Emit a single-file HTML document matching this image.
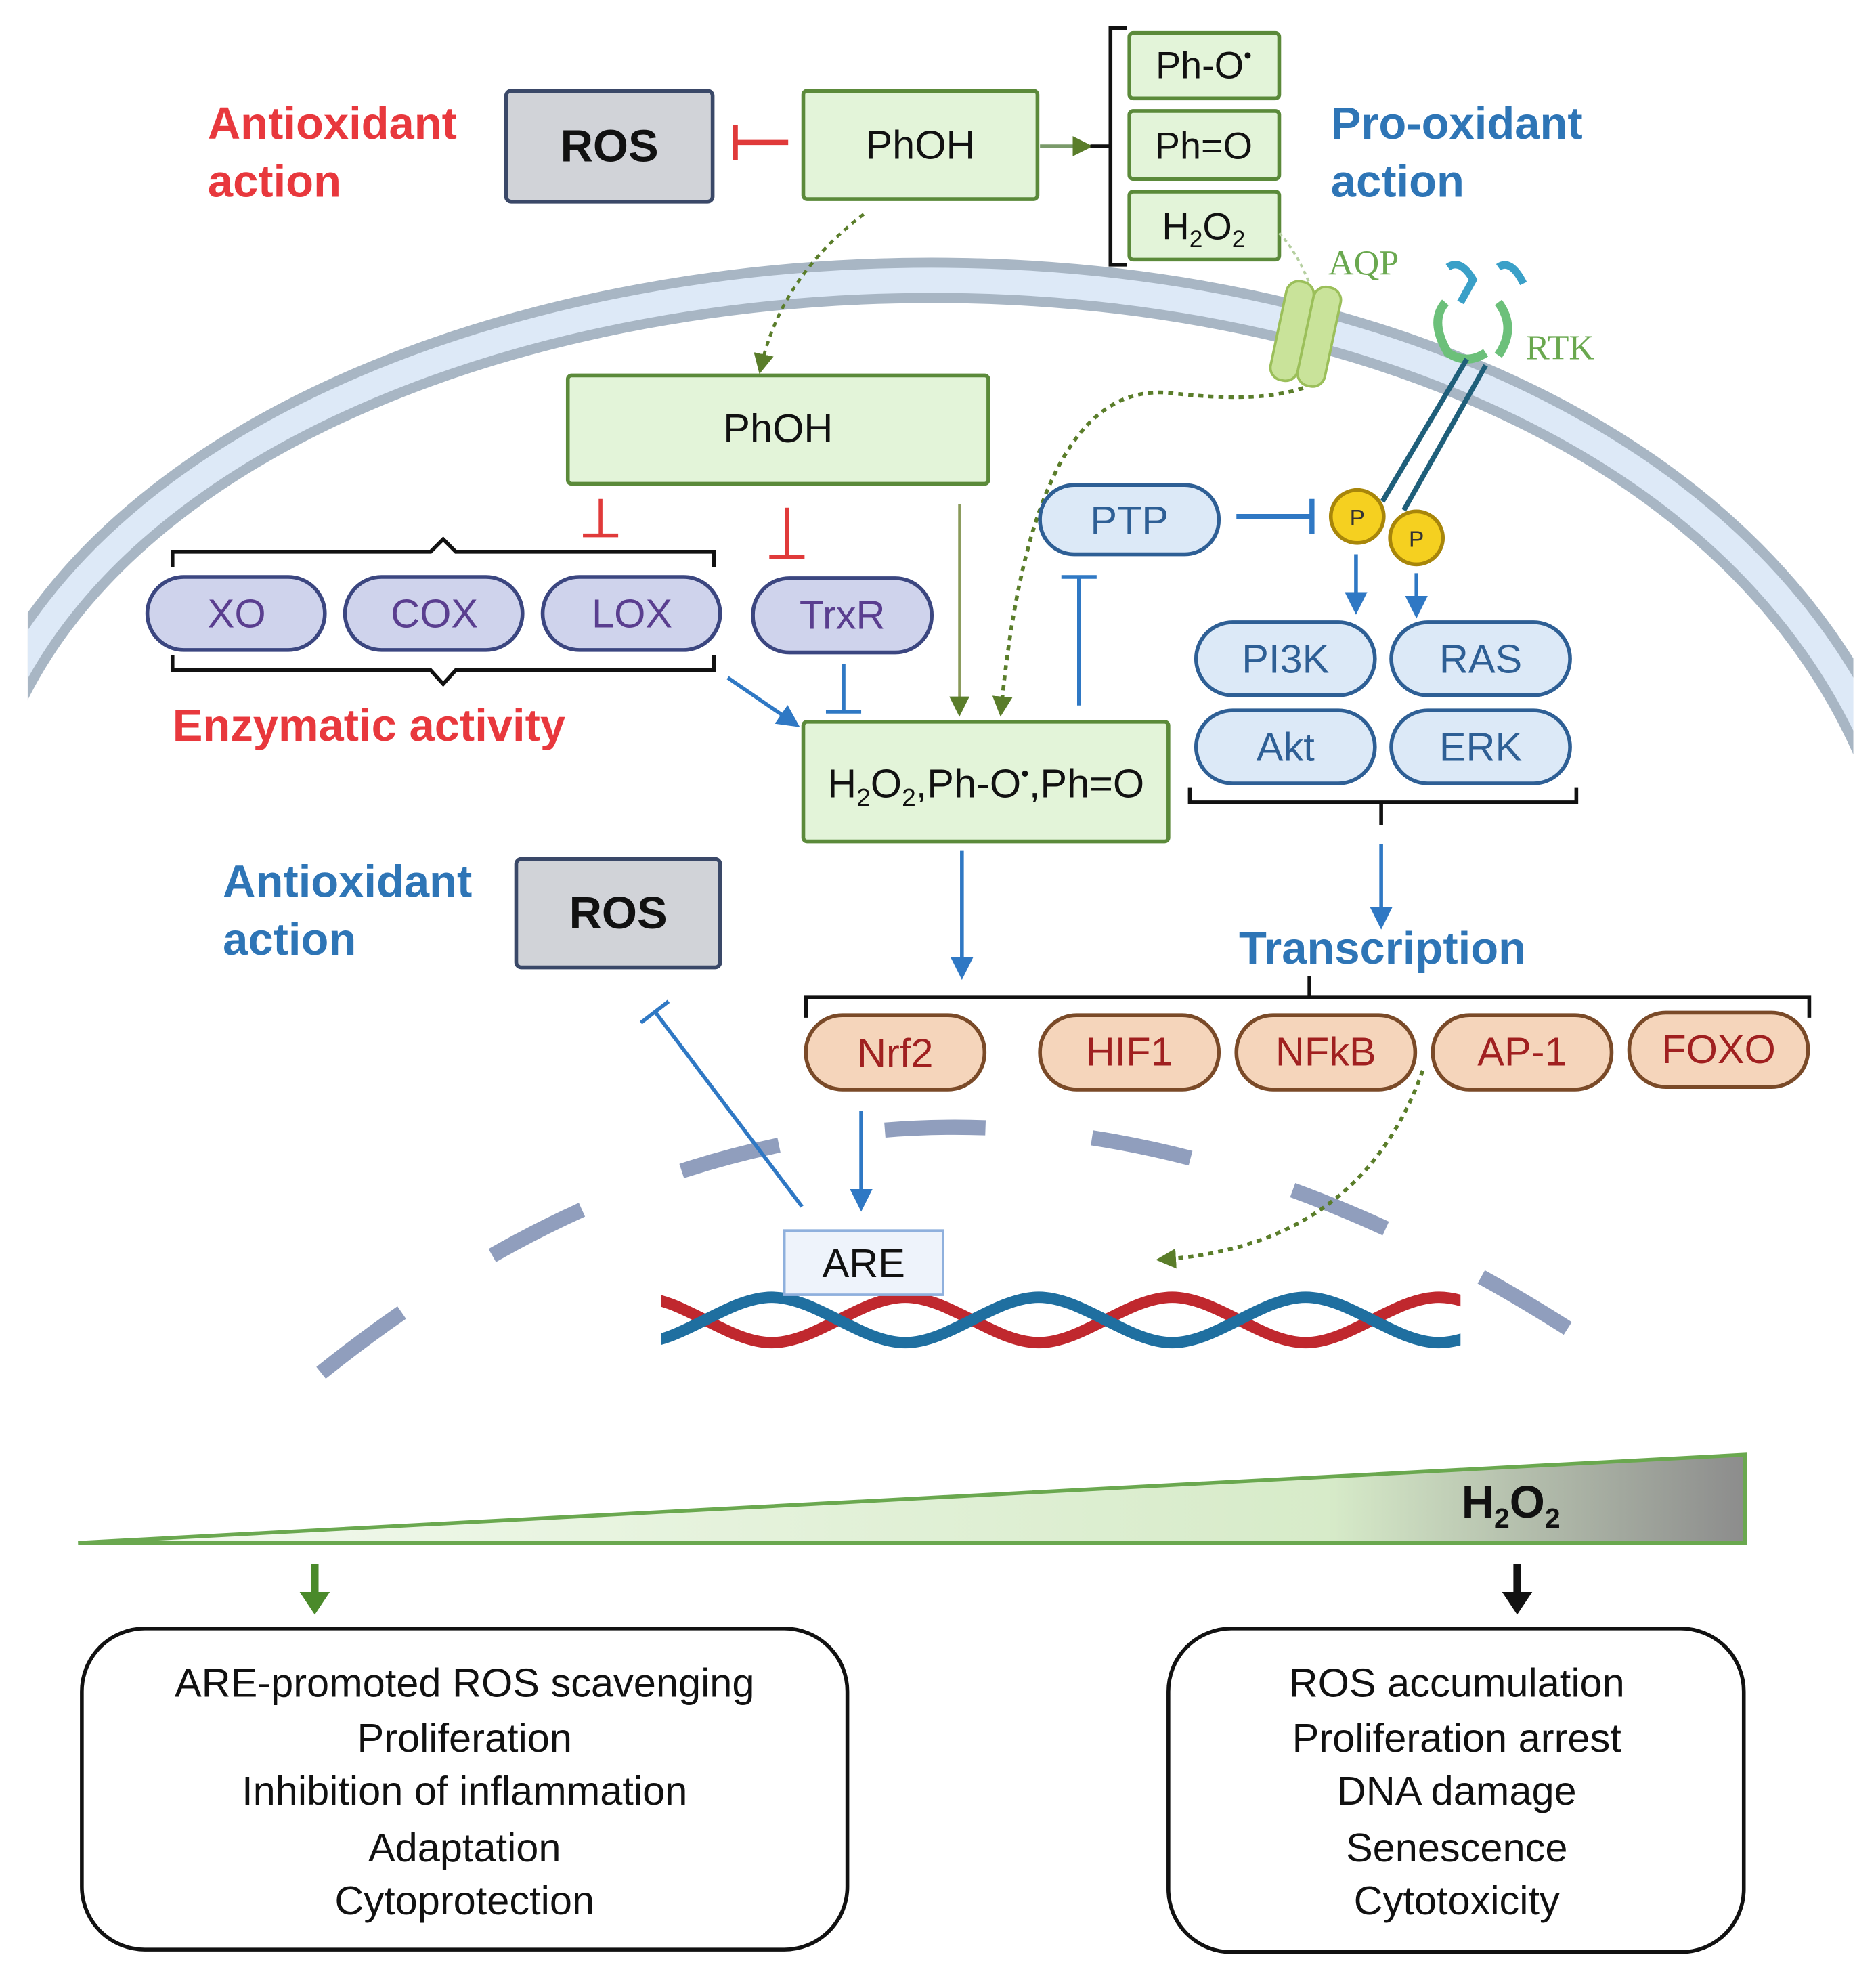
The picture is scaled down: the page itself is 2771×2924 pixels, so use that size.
<!DOCTYPE html>
<html><head><meta charset="utf-8"><style>
html,body{margin:0;padding:0;background:#fff}
svg{display:block}
text{font-family:"Liberation Sans",sans-serif}
</style></head><body>
<svg width="2771" height="2924" viewBox="0 0 1490 1572" xmlns="http://www.w3.org/2000/svg">
<defs>
<marker id="agb" markerWidth="16" markerHeight="16" refX="12" refY="8" orient="auto" markerUnits="userSpaceOnUse"><path d="M0,0 L16,8 L0,16 z" fill="#5a7d2a"/></marker>
<marker id="ab" markerWidth="18" markerHeight="18" refX="14" refY="9" orient="auto" markerUnits="userSpaceOnUse"><path d="M0,0 L18,9 L0,18 z" fill="#2f78c4"/></marker>
<linearGradient id="tri" x1="0" x2="1" y1="0" y2="0">
<stop offset="0" stop-color="#f4faf0"/><stop offset="0.75" stop-color="#d7ebc9"/><stop offset="1" stop-color="#8c8c8c"/></linearGradient>
<clipPath id="mc"><rect x="22" y="0" width="1450" height="700"/></clipPath>
<clipPath id="dc"><rect x="525" y="1000" width="635" height="100"/></clipPath>
</defs>

<!-- membrane -->
<g clip-path="url(#mc)">
<path d="M0,560 C200,120 1300,80 1500,620" fill="none" stroke="#a8b6c4" stroke-width="36"/>
<path d="M0,560 C200,120 1300,80 1500,620" fill="none" stroke="#dde9f7" stroke-width="20"/>
</g>

<!-- nucleus dashed -->
<path d="M255,1090 Q740,700 1298,1090" fill="none" stroke="#909ebd" stroke-width="12" stroke-dasharray="80,85"/>

<!-- top row -->
<text x="165" y="110" font-size="36" font-weight="bold" fill="#e8383d">Antioxidant</text>
<text x="165" y="156" font-size="36" font-weight="bold" fill="#e8383d">action</text>
<rect x="402" y="72" width="164" height="88" rx="4" fill="#d1d3d8" stroke="#3a4868" stroke-width="3"/>
<text x="484" y="128" font-size="36" font-weight="bold" text-anchor="middle" fill="#111">ROS</text>
<line x1="584" y1="113" x2="626" y2="113" stroke="#e03a3a" stroke-width="4"/>
<line x1="584" y1="99" x2="584" y2="127" stroke="#e03a3a" stroke-width="4"/>
<rect x="638" y="72" width="186" height="86" rx="3" fill="#e3f4d9" stroke="#5b8a3a" stroke-width="3"/>
<text x="731" y="126" font-size="32" text-anchor="middle" fill="#111">PhOH</text>
<line x1="826" y1="116" x2="864" y2="116" stroke="#7a9a6a" stroke-width="3" marker-end="url(#agb)"/>
<path d="M895,22 L882,22 L882,210 L895,210 M866,116 L882,116" fill="none" stroke="#111" stroke-width="3"/>
<rect x="897" y="26" width="119" height="52" rx="3" fill="#e3f4d9" stroke="#5b8a3a" stroke-width="3"/>
<text x="956" y="62" font-size="30" text-anchor="middle" fill="#111">Ph-O<tspan font-size="18" dy="-12">•</tspan></text>
<rect x="897" y="88" width="119" height="54" rx="3" fill="#e3f4d9" stroke="#5b8a3a" stroke-width="3"/>
<text x="956" y="126" font-size="30" text-anchor="middle" fill="#111">Ph=O</text>
<rect x="897" y="152" width="119" height="54" rx="3" fill="#e3f4d9" stroke="#5b8a3a" stroke-width="3"/>
<text x="956" y="190" font-size="30" text-anchor="middle" fill="#111">H<tspan font-size="19" dy="6">2</tspan><tspan dy="-6">O</tspan><tspan font-size="19" dy="6">2</tspan></text>
<text x="1057" y="110" font-size="36" font-weight="bold" fill="#2e75b6">Pro-oxidant</text>
<text x="1057" y="156" font-size="36" font-weight="bold" fill="#2e75b6">action</text>

<!-- AQP / RTK -->
<text x="1055" y="218" font-size="28" fill="#6aa84f" style="font-family:'Liberation Serif',serif">AQP</text>
<path d="M1016,185 Q1030,200 1040,225" fill="none" stroke="#b5cfa0" stroke-width="2" stroke-dasharray="3,3"/>
<g transform="rotate(12 1037 265)">
<rect x="1015" y="225" width="22" height="80" rx="10" fill="#c9e39a" stroke="#9bbf5a" stroke-width="2"/>
<rect x="1037" y="225" width="22" height="80" rx="10" fill="#c9e39a" stroke="#9bbf5a" stroke-width="2"/>
</g>
<text x="1212" y="285" font-size="28" fill="#6aa84f" style="font-family:'Liberation Serif',serif">RTK</text>
<path d="M1150,212 Q1160,205 1170,222 L1160,240 M1190,212 Q1200,205 1210,225" fill="none" stroke="#3aa0c8" stroke-width="6"/>
<path d="M1148,240 Q1135,255 1150,280 Q1165,290 1180,280 M1190,240 Q1205,260 1190,282" fill="none" stroke="#6cc07a" stroke-width="7"/>
<line x1="1165" y1="285" x2="1098" y2="398" stroke="#1f5f7a" stroke-width="4"/>
<line x1="1180" y1="290" x2="1115" y2="405" stroke="#1f5f7a" stroke-width="4"/>
<circle cx="1078" cy="410" r="21" fill="#f5d020" stroke="#a8860a" stroke-width="3"/>
<text x="1078" y="417" font-size="18" text-anchor="middle" fill="#333">P</text>
<circle cx="1125" cy="427" r="21" fill="#f5d020" stroke="#a8860a" stroke-width="3"/>
<text x="1125" y="434" font-size="18" text-anchor="middle" fill="#333">P</text>

<!-- dotted arrows -->
<path d="M686,170 Q620,220 604,293" fill="none" stroke="#5a7d2a" stroke-width="2.5" stroke-dasharray="4,4" marker-end="url(#agb)"/>
<path d="M1035,308 Q1000,320 930,312 Q820,300 795,565" fill="none" stroke="#5a7d2a" stroke-width="3" stroke-dasharray="4,4" marker-end="url(#agb)"/>
<path d="M1130,850 Q1080,990 922,1000" fill="none" stroke="#5a7d2a" stroke-width="3" stroke-dasharray="4,4" marker-end="url(#agb)"/>

<!-- PhOH second -->
<rect x="451" y="298" width="334" height="86" rx="3" fill="#e3f4d9" stroke="#5b8a3a" stroke-width="3"/>
<text x="618" y="351" font-size="32" text-anchor="middle" fill="#111">PhOH</text>
<path d="M477,396 L477,425 M463,425 L491,425 M625,403 L625,442 M611,442 L639,442" stroke="#e03a3a" stroke-width="3" fill="none"/>
<line x1="762" y1="400" x2="762" y2="565" stroke="#8a9a5a" stroke-width="2" marker-end="url(#agb)"/>

<!-- braces -->
<path d="M137,450 L137,438 L342,438 L352,428 L362,438 L567,438 L567,450" fill="none" stroke="#111" stroke-width="3"/>
<path d="M137,520 L137,532 L342,532 L352,543 L362,532 L567,532 L567,520" fill="none" stroke="#111" stroke-width="3"/>

<!-- enzymes -->
<g fill="#cfd3ec" stroke="#3b4680" stroke-width="3">
<rect x="117" y="458" width="141" height="58" rx="29"/>
<rect x="274" y="458" width="141" height="58" rx="29"/>
<rect x="431" y="458" width="141" height="58" rx="29"/>
<rect x="598" y="459" width="142" height="59" rx="29"/>
</g>
<g font-size="32" text-anchor="middle" fill="#5a3e8f">
<text x="188" y="498">XO</text><text x="345" y="498">COX</text><text x="502" y="498">LOX</text><text x="669" y="499">TrxR</text>
</g>
<text x="137" y="588" font-size="36" font-weight="bold" fill="#e8383d">Enzymatic activity</text>
<line x1="578" y1="538" x2="632" y2="575" stroke="#2f78c4" stroke-width="3" marker-end="url(#ab)"/>
<path d="M670,527 L670,565 M656,565 L684,565" stroke="#2f78c4" stroke-width="3" fill="none"/>

<!-- main box -->
<rect x="638" y="573" width="290" height="95" rx="3" fill="#e3f4d9" stroke="#5b8a3a" stroke-width="3"/>
<text x="783" y="633" font-size="32" text-anchor="middle" fill="#111">H<tspan font-size="20" dy="7">2</tspan><tspan dy="-7">O</tspan><tspan font-size="20" dy="7">2</tspan><tspan dy="-7">,Ph-O</tspan><tspan font-size="18" dy="-13">•</tspan><tspan dy="13">,Ph=O</tspan></text>
<path d="M857,560 L857,458 M843,458 L871,458" stroke="#2f78c4" stroke-width="3" fill="none"/>

<!-- PTP -->
<rect x="826" y="385" width="142" height="55" rx="27" fill="#dce9f7" stroke="#2e5f95" stroke-width="3"/>
<text x="897" y="424" font-size="32" text-anchor="middle" fill="#2e5f95">PTP</text>
<path d="M982,410 L1042,410 M1042,396 L1042,424" stroke="#2f78c4" stroke-width="4" fill="none"/>
<line x1="1077" y1="440" x2="1077" y2="484" stroke="#2f78c4" stroke-width="3" marker-end="url(#ab)"/>
<line x1="1125" y1="455" x2="1125" y2="487" stroke="#2f78c4" stroke-width="3" marker-end="url(#ab)"/>

<g fill="#dce9f7" stroke="#2e5f95" stroke-width="3">
<rect x="950" y="494" width="142" height="58" rx="29"/>
<rect x="1105" y="494" width="142" height="58" rx="29"/>
<rect x="950" y="564" width="142" height="58" rx="29"/>
<rect x="1105" y="564" width="142" height="58" rx="29"/>
</g>
<g font-size="32" text-anchor="middle" fill="#2e5f95">
<text x="1021" y="534">PI3K</text><text x="1176" y="534">RAS</text><text x="1021" y="604">Akt</text><text x="1176" y="604">ERK</text>
</g>
<path d="M945,625 L945,637 L1252,637 L1252,625 M1097,637 L1097,655" fill="none" stroke="#111" stroke-width="3"/>
<line x1="1097" y1="670" x2="1097" y2="734" stroke="#2f78c4" stroke-width="3" marker-end="url(#ab)"/>
<line x1="764" y1="675" x2="764" y2="774" stroke="#2f78c4" stroke-width="3" marker-end="url(#ab)"/>

<!-- lower antioxidant -->
<text x="177" y="712" font-size="36" font-weight="bold" fill="#2e75b6">Antioxidant</text>
<text x="177" y="758" font-size="36" font-weight="bold" fill="#2e75b6">action</text>
<rect x="410" y="682" width="162" height="86" rx="4" fill="#d1d3d8" stroke="#3a4868" stroke-width="3"/>
<text x="491" y="737" font-size="36" font-weight="bold" text-anchor="middle" fill="#111">ROS</text>
<path d="M637,958 L520,803 M509,812 L531,795" stroke="#2f78c4" stroke-width="3" fill="none"/>

<text x="1098" y="765" font-size="36" font-weight="bold" text-anchor="middle" fill="#2e75b6">Transcription</text>
<path d="M640,808 L640,792 L1437,792 L1437,808 M1040,792 L1040,775" fill="none" stroke="#111" stroke-width="3"/>

<g fill="#f5d5bb" stroke="#7a4a28" stroke-width="3">
<rect x="640" y="806" width="142" height="59" rx="29"/>
<rect x="826" y="806" width="142" height="59" rx="29"/>
<rect x="982" y="806" width="142" height="59" rx="29"/>
<rect x="1138" y="806" width="142" height="59" rx="29"/>
<rect x="1294" y="804" width="142" height="59" rx="29"/>
</g>
<g font-size="32" text-anchor="middle" fill="#a02020">
<text x="711" y="847">Nrf2</text><text x="897" y="846">HIF1</text><text x="1053" y="846">NFkB</text><text x="1209" y="846">AP-1</text><text x="1365" y="844">FOXO</text>
</g>
<line x1="684" y1="882" x2="684" y2="958" stroke="#2f78c4" stroke-width="3" marker-end="url(#ab)"/>

<!-- DNA -->
<g clip-path="url(#dc)">
<path d="M507,1030 C542,1030 578,1066 613,1066 S684,1030 719,1030 S790,1066 825,1066 S896,1030 931,1030 S1002,1066 1037,1066 S1108,1030 1143,1030 S1214,1066 1249,1066" fill="none" stroke="#c0282e" stroke-width="9"/>
<path d="M507,1066 C542,1066 578,1030 613,1030 S684,1066 719,1066 S790,1030 825,1030 S896,1066 931,1066 S1002,1030 1037,1030 S1108,1066 1143,1066 S1214,1030 1249,1030" fill="none" stroke="#1f6fa0" stroke-width="9"/>
</g>
<rect x="623" y="977" width="126" height="51" fill="#eef3fb" stroke="#8fb0dd" stroke-width="2"/>
<text x="686" y="1014" font-size="32" text-anchor="middle" fill="#111">ARE</text>

<!-- triangle -->
<path d="M62,1225 L1386,1155 L1386,1225 Z" fill="url(#tri)" stroke="#6aa84f" stroke-width="3"/>
<text x="1200" y="1205" font-size="36" font-weight="bold" text-anchor="middle" fill="#111">H<tspan font-size="22" dy="8">2</tspan><tspan dy="-8">O</tspan><tspan font-size="22" dy="8">2</tspan></text>
<path d="M250,1242 L250,1268" stroke="#4a8a2a" stroke-width="6"/><path d="M238,1264 L262,1264 L250,1282 Z" fill="#4a8a2a"/>
<path d="M1205,1242 L1205,1268" stroke="#111" stroke-width="6"/><path d="M1193,1264 L1217,1264 L1205,1282 Z" fill="#111"/>

<rect x="65" y="1293" width="608" height="255" rx="50" fill="#fff" stroke="#111" stroke-width="3"/>
<g font-size="32" text-anchor="middle" fill="#111">
<text x="369" y="1347">ARE-promoted ROS scavenging</text>
<text x="369" y="1391">Proliferation</text>
<text x="369" y="1433">Inhibition of inflammation</text>
<text x="369" y="1478">Adaptation</text>
<text x="369" y="1520">Cytoprotection</text>
</g>
<rect x="928" y="1293" width="457" height="257" rx="50" fill="#fff" stroke="#111" stroke-width="3"/>
<g font-size="32" text-anchor="middle" fill="#111">
<text x="1157" y="1347">ROS accumulation</text>
<text x="1157" y="1391">Proliferation arrest</text>
<text x="1157" y="1433">DNA damage</text>
<text x="1157" y="1478">Senescence</text>
<text x="1157" y="1520">Cytotoxicity</text>
</g>
</svg>
</body></html>
